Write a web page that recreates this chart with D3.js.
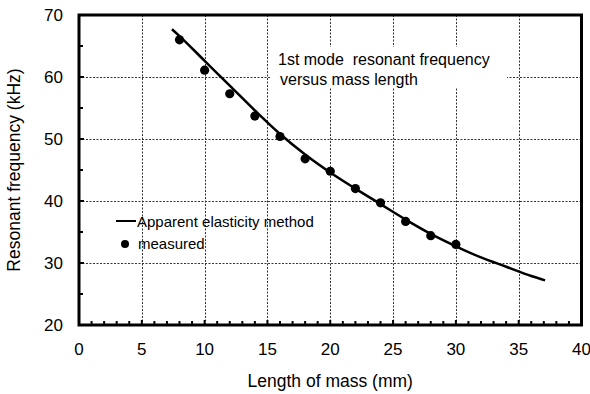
<!DOCTYPE html>
<html>
<head>
<meta charset="utf-8">
<script src="https://cdn.jsdelivr.net/npm/d3@7"></script>
<style>
  body { margin: 0; background: #fff; }
  text { font-family: "Liberation Sans", Arial, sans-serif; fill: #000; }
</style>
</head>
<body>
<svg id="chart" width="590" height="394"></svg>
<script>
// measured points
const measuredX = [8, 10, 12, 14, 16, 18, 20, 22, 24, 26, 28, 30];
const measuredY = [66.0, 61.1, 57.3, 53.7, 50.4, 46.8, 44.8, 42.0, 39.7, 36.7, 34.4, 33.0];

// apparent elasticity method curve
const curveX = [7.4, 8, 10, 12, 14, 16, 18, 20, 22, 24, 26, 28, 30, 32, 34, 36, 37.1];
const curveY = [67.7, 66.6, 62.6, 58.6, 54.6, 50.8, 47.5, 44.6, 42.0, 39.5, 37.0, 34.7, 32.7, 30.9, 29.4, 27.9, 27.2];

const xTicks = [0, 5, 10, 15, 20, 25, 30, 35, 40];
const yTicks = [20, 30, 40, 50, 60, 70];

const margin = { left: 79, right: 8.5, top: 15, bottom: 69 };
const width = 590, height = 394;

const svg = d3.select('#chart');

const xScale = d3.scaleLinear().domain([0, 40]).range([margin.left, width - margin.right]);
const yScale = d3.scaleLinear().domain([20, 70]).range([height - margin.bottom, margin.top]);

const x0 = xScale(0), x1 = xScale(40), y0 = yScale(20), y1 = yScale(70);

// grid
const grid = svg.append('g')
    .attr('stroke', '#333')
    .attr('stroke-width', 1)
    .attr('stroke-dasharray', '2,1.5');

grid.selectAll('.gx')
    .data(xTicks.slice(1, -1))
    .enter()
    .append('line')
    .attr('x1', (d) => Math.round(xScale(d)) + 0.5)
    .attr('x2', (d) => Math.round(xScale(d)) + 0.5)
    .attr('y1', y1)
    .attr('y2', y0);

grid.selectAll('.gy')
    .data(yTicks.slice(1, -1))
    .enter()
    .append('line')
    .attr('y1', (d) => Math.round(yScale(d)) + 0.5)
    .attr('y2', (d) => Math.round(yScale(d)) + 0.5)
    .attr('x1', x0)
    .attr('x2', x1);

// annotation box + text
const note = svg.append('g');
const noteText = note.append('text')
    .attr('font-size', '16px')
    .style('white-space', 'pre');
noteText.append('tspan').attr('x', 278).attr('y', 65).text('1st mode  resonant frequency');
noteText.append('tspan').attr('x', 280).attr('y', 85).text('versus mass length');
note.insert('rect', 'text')
    .attr('x', 270).attr('y', 47)
    .attr('width', 237).attr('height', 41)
    .attr('fill', '#fff');

// curve
const line = d3.line()
    .x((d) => xScale(d[0]))
    .y((d) => yScale(d[1]))
    .curve(d3.curveMonotoneX);

svg.append('path')
    .datum(curveX.map((x, i) => [x, curveY[i]]))
    .attr('fill', 'none')
    .attr('stroke', '#000')
    .attr('stroke-width', 2.5)
    .attr('d', line);

// measured points
svg.selectAll('.pt')
    .data(measuredX.map((x, i) => [x, measuredY[i]]))
    .enter()
    .append('circle')
    .attr('cx', (d) => xScale(d[0]))
    .attr('cy', (d) => yScale(d[1]))
    .attr('r', 4.6)
    .attr('fill', '#000');

// minor/major ticks (inside)
const ticks = svg.append('g').attr('stroke', '#000').attr('stroke-width', 2);
ticks.selectAll('.tx')
    .data(d3.range(1, 40))
    .enter()
    .append('line')
    .attr('x1', (d) => xScale(d))
    .attr('x2', (d) => xScale(d))
    .attr('y1', y0)
    .attr('y2', (d) => y0 - (d % 5 === 0 ? 5 : 4));

ticks.selectAll('.ty')
    .data(d3.range(25, 70, 5))
    .enter()
    .append('line')
    .attr('y1', (d) => yScale(d))
    .attr('y2', (d) => yScale(d))
    .attr('x1', x0)
    .attr('x2', (d) => x0 + (d % 10 === 0 ? 5 : 4));

// frame
svg.append('rect')
    .attr('x', x0).attr('y', y1)
    .attr('width', x1 - x0).attr('height', y0 - y1)
    .attr('fill', 'none')
    .attr('stroke', '#000')
    .attr('stroke-width', 3);

// tick labels
svg.selectAll('.xl')
    .data(xTicks)
    .enter()
    .append('text')
    .attr('x', (d) => xScale(d))
    .attr('y', y0 + 30)
    .attr('text-anchor', 'middle')
    .attr('font-size', '17px')
    .text((d) => d);

svg.selectAll('.yl')
    .data(yTicks)
    .enter()
    .append('text')
    .attr('x', x0 - 16)
    .attr('y', (d) => yScale(d) + 6)
    .attr('text-anchor', 'end')
    .attr('font-size', '17px')
    .text((d) => d);

// axis titles
svg.append('text')
    .attr('x', (x0 + x1) / 2)
    .attr('y', 387)
    .attr('text-anchor', 'middle')
    .attr('font-size', '17.5px')
    .text('Length of mass (mm)');

svg.append('text')
    .attr('transform', `translate(20, ${(y0 + y1) / 2}) rotate(-90)`)
    .attr('text-anchor', 'middle')
    .attr('font-size', '17.5px')
    .text('Resonant frequency (kHz)');

// legend
const legend = svg.append('g').attr('font-size', '15px');
legend.append('line')
    .attr('x1', 116).attr('x2', 136)
    .attr('y1', 221).attr('y2', 221)
    .attr('stroke', '#000').attr('stroke-width', 2);
legend.append('text').attr('x', 137).attr('y', 226.5).text('Apparent elasticity method');
legend.append('circle').attr('cx', 125).attr('cy', 244).attr('r', 4).attr('fill', '#000');
legend.append('text').attr('x', 138).attr('y', 249).text('measured');
</script>
</body>
</html>
